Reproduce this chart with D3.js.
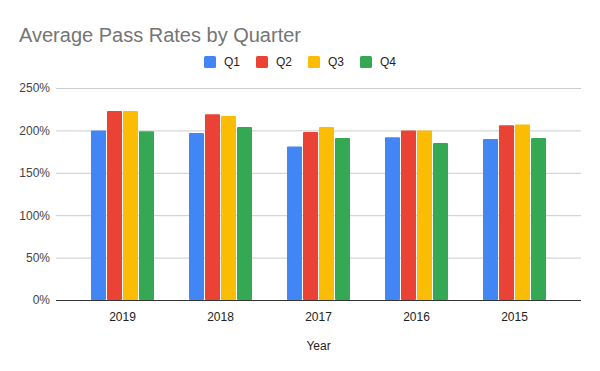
<!DOCTYPE html>
<html>
<head>
<meta charset="utf-8">
<script src="https://cdn.jsdelivr.net/npm/d3@7"></script>
<style>
  body { margin: 0; background: #fff; }
  text { font-family: Arial, "Liberation Sans", sans-serif; }
</style>
</head>
<body>
<div id="chart"></div>
<script>
// pass rates (%) per year, one array per quarter
const years = ["2019", "2018", "2017", "2016", "2015"];
const quarters = ["Q1", "Q2", "Q3", "Q4"];
const q1 = [200, 197, 181, 192, 190];
const q2 = [223, 219, 198, 200, 206];
const q3 = [223, 217, 204, 200, 207];
const q4 = [199, 204, 191, 185, 191];
const yTicks = [0, 50, 100, 150, 200, 250];
const colors = ["#4285F4", "#EA4335", "#FBBC04", "#34A853"];

const series = [q1, q2, q3, q4];
const data = years.map((y, i) => ({ year: y, values: quarters.map((q, j) => ({ q, v: series[j][i] })) }));

const width = 600, height = 371;
const plot = { left: 56, right: 581, top: 88, bottom: 300 };

const svg = d3.select("#chart")
    .append("svg")
    .attr("width", width)
    .attr("height", height);

// scales
const x0 = d3.scaleBand()
    .domain(years)
    .range([plot.left, plot.right])
    .paddingInner(0.357)
    .paddingOuter(0.357);

const x1 = d3.scaleBand()
    .domain(quarters)
    .range([0, x0.bandwidth()])
    .paddingInner(0.06);

const y = d3.scaleLinear()
    .domain([0, 250])
    .range([plot.bottom, plot.top]);

const color = d3.scaleOrdinal().domain(quarters).range(colors);

// gridlines + y labels
const yAxis = svg.append("g")
    .attr("transform", `translate(${plot.left},0)`)
    .call(d3.axisLeft(y).tickValues(yTicks).tickSize(-(plot.right - plot.left)).tickFormat(d => d + "%"));
yAxis.select(".domain").remove();
yAxis.selectAll(".tick line").attr("stroke", "#cccccc");
yAxis.selectAll(".tick text")
    .attr("x", -6)
    .attr("fill", "#444")
    .style("font-size", "12px");

// bars
svg.append("g")
    .selectAll("g")
    .data(data)
    .join("g")
    .attr("transform", d => `translate(${x0(d.year)},0)`)
    .selectAll("rect")
    .data(d => d.values)
    .join("rect")
    .attr("x", d => x1(d.q))
    .attr("y", d => y(d.v))
    .attr("width", x1.bandwidth())
    .attr("height", d => y(0) - y(d.v))
    .attr("rx", 1)
    .attr("fill", d => color(d.q));

// baseline + x labels
const xAxis = svg.append("g")
    .attr("transform", `translate(0,${plot.bottom})`)
    .call(d3.axisBottom(x0).tickSize(0).tickPadding(12));
xAxis.select(".domain").remove();
xAxis.selectAll(".tick text").attr("fill", "#222").style("font-size", "12px");

svg.append("line")
    .attr("x1", plot.left).attr("x2", plot.right)
    .attr("y1", y(0) + 0.5).attr("y2", y(0) + 0.5)
    .attr("stroke", "#333")
    .attr("stroke-width", 1);

// title
svg.append("text")
    .attr("x", 19)
    .attr("y", 42)
    .attr("fill", "#757575")
    .style("font-size", "20px")
    .text("Average Pass Rates by Quarter");

// legend
const legend = svg.append("g")
    .selectAll("g")
    .data(quarters)
    .join("g")
    .attr("transform", (d, i) => `translate(${204 + i * 52},56)`);

legend.append("rect")
    .attr("width", 12)
    .attr("height", 12)
    .attr("rx", 1.5)
    .attr("fill", d => color(d));

legend.append("text")
    .attr("x", 20)
    .attr("y", 6)
    .attr("dy", "0.35em")
    .attr("fill", "#222")
    .style("font-size", "12px")
    .text(d => d);

// x-axis title
svg.append("text")
    .attr("x", (plot.left + plot.right) / 2)
    .attr("y", 350)
    .attr("text-anchor", "middle")
    .attr("fill", "#222")
    .style("font-size", "12px")
    .text("Year");
</script>
</body>
</html>
